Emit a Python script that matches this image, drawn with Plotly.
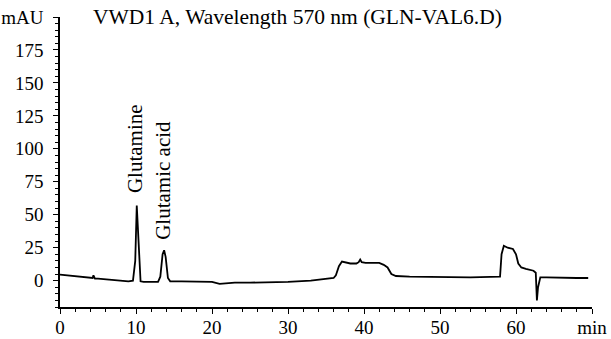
import plotly.graph_objects as go

time_min = [0, 1, 2, 3, 4, 4.3, 4.4, 4.6, 5, 6, 7, 8, 9, 9.6, 9.9, 10.1, 10.3, 10.6, 11, 12,
            12.9, 13.2, 13.5, 13.7, 13.9, 14.2, 14.5, 16, 18, 20, 21, 22, 23, 25, 28, 30, 33, 35,
            36, 36.3, 36.7, 37.1, 37.6, 38.2, 39, 39.3, 39.5, 39.7, 40.2, 41, 42, 42.6, 43.1, 43.6,
            44.2, 46, 50, 54, 57.9, 58.1, 58.4, 58.9, 59.6, 60.0, 60.3, 60.7, 61.3, 62.3, 62.6,
            62.75, 62.9, 63.2, 64, 66, 68, 69.5]
signal_mau = [4.5, 4, 3.5, 2.5, 2, 2, 4, 1.5, 1.5, 1, 0.5, 0, -0.5, 0, 15, 57, 30, -0.5, -1, -1,
              -1, 3, 20, 23, 18, 2, -0.5, -0.5, -0.8, -1, -2.5, -2, -1.5, -1.5, -1.5, -1, 0, 1,
              2, 4, 11, 14.5, 14, 13, 13, 14, 16, 14, 13.5, 13.5, 13.5, 12, 10, 5,
              3.5, 3, 2.5, 2.5, 3, 20, 26.5, 25, 24, 20, 13, 10, 9, 7.5, 6,
              -15, -5, 2.5, 2.5, 2, 2, 2]

y_tickvals = [0, 25, 50, 75, 100, 125, 150, 175, 200]
y_ticktext = ["0", "25", "50", "75", "100", "125", "150", "175", "mAU"]
x_tickvals = [0, 10, 20, 30, 40, 50, 60, 70]
x_ticktext = ["0", "10", "20", "30", "40", "50", "60", "min"]

peak_names = ["Glutamine", "Glutamic acid"]
peak_x = [9.9, 13.6]
peak_y = [100, 76]

title_text = "VWD1 A, Wavelength 570 nm (GLN-VAL6.D)"

font_family = "Liberation Serif, Times New Roman, serif"

fig = go.Figure()
fig.add_trace(go.Scatter(x=time_min, y=signal_mau, mode="lines",
                         line=dict(color="black", width=1.8), hoverinfo="skip",
                         showlegend=False))

for name, px, py in zip(peak_names, peak_x, peak_y):
    fig.add_annotation(x=px, y=py, text=name, showarrow=False, textangle=-90,
                       font=dict(family=font_family, size=21, color="black"),
                       xanchor="center", yanchor="middle")

fig.add_annotation(xref="paper", yref="paper", x=0.058, y=1.0, text=title_text,
                   showarrow=False, xanchor="left", yanchor="middle",
                   font=dict(family=font_family, size=21.5, color="black"))

fig.update_layout(
    width=611, height=339,
    margin=dict(l=60, r=19, t=17, b=32),
    paper_bgcolor="white", plot_bgcolor="white",
    font=dict(family=font_family, size=19, color="black"),
    hovermode=False,
    xaxis=dict(range=[0, 70], tickvals=x_tickvals, ticktext=x_ticktext, automargin=False,
               showgrid=False, zeroline=False, showline=True, linecolor="black",
               linewidth=1.5, ticks="outside", ticklen=5, tickwidth=1.2, tickcolor="black",
               minor=dict(dtick=2, ticks="outside", ticklen=3, tickcolor="black"),
               ticklabelstandoff=-3, tickfont=dict(size=19)),
    yaxis=dict(range=[-20, 200], tickvals=y_tickvals, ticktext=y_ticktext, automargin=False,
               showgrid=False, zeroline=False, showline=True, linecolor="black",
               linewidth=1.5, ticks="outside", ticklen=5, tickwidth=1.2, tickcolor="black",
               minor=dict(dtick=5, ticks="outside", ticklen=3, tickcolor="black"),
               ticklabelstandoff=6, tickfont=dict(size=19)),
)

fig.write_html("out.html", config={"displayModeBar": False},
               post_script="document.body.style.margin='0';document.body.style.overflow='hidden';")
